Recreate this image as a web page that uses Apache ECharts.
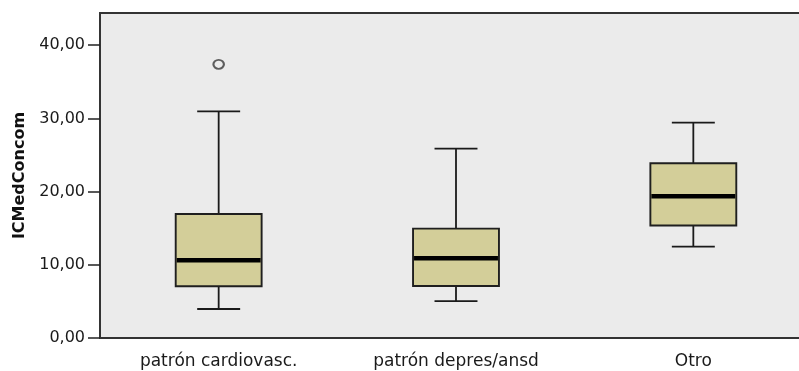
<!DOCTYPE html>
<html>
<head>
<meta charset="utf-8">
<script src="https://cdn.jsdelivr.net/npm/echarts@6/dist/echarts.min.js"></script>
<style>
html,body{margin:0;padding:0;background:#fff;overflow:hidden;}
#chart{width:799px;height:371px;}
</style>
</head>
<body>
<div id="chart"></div>
<script>
const categories = ['patrón cardiovasc.', 'patrón depres/ansd', 'Otro'];
const lowWhisker = [3.96, 5.05, 12.49];
const q1 = [7.06, 7.10, 15.36];
const median = [10.61, 10.89, 19.36];
const q3 = [16.94, 14.94, 23.87];
const highWhisker = [30.97, 25.87, 29.43];
const outliers = [[0, 37.39]];
const yTicks = [0, 10, 20, 30, 40];
const yMax = 44.4;

const boxData = categories.map((c, i) => [i, lowWhisker[i], q1[i], median[i], q3[i], highWhisker[i]]);

function fmt(v) { return v.toFixed(2).replace('.', ','); }

const chart = echarts.init(document.getElementById('chart'));
chart.setOption({
  animation: false,
  grid: {
    left: 100, top: 13, height: 325, width: 712,
    outerBoundsMode: 'none',
    containLabel: false,
    show: true, backgroundColor: '#ebebeb', borderColor: '#333', borderWidth: 1.8
  },
  xAxis: {
    type: 'category',
    data: categories,
    boundaryGap: true,
    axisLine: { lineStyle: { color: '#333', width: 1.8 } },
    axisTick: { alignWithLabel: true, length: 11, lineStyle: { color: '#222', width: 1.5 } },
    axisLabel: { fontFamily: 'DejaVu Sans', fontSize: 17, color: '#1a1a1a', margin: 15 },
    splitLine: { show: false }
  },
  yAxis: {
    type: 'value',
    min: 0, max: yMax,
    name: 'ICMedConcom',
    nameLocation: 'middle',
    nameGap: 68,
    nameTextStyle: { fontFamily: 'DejaVu Sans', fontWeight: 'bold', fontSize: 16, color: '#111' },
    axisLine: { show: true, lineStyle: { color: '#333', width: 1.8 } },
    axisTick: { show: true, length: 12, customValues: yTicks, lineStyle: { color: '#222', width: 1.5 } },
    axisLabel: { customValues: yTicks, formatter: fmt, fontFamily: 'DejaVu Sans', fontSize: 16, color: '#1a1a1a', margin: 15 },
    splitLine: { show: false }
  },
  series: [
    {
      type: 'custom',
      data: boxData,
      encode: { x: 0, y: [1, 2, 3, 4, 5] },
      renderItem: function (params, api) {
        const x = api.value(0);
        const pLow = api.coord([x, api.value(1)]);
        const pQ1 = api.coord([x, api.value(2)]);
        const pMed = api.coord([x, api.value(3)]);
        const pQ3 = api.coord([x, api.value(4)]);
        const pHigh = api.coord([x, api.value(5)]);
        const band = api.size([1, 0])[0];
        const bw = band * 0.362;
        const cw = bw / 2;
        const cx = pMed[0];
        const ws = { stroke: '#1a1a1a', lineWidth: 1.8 };
        return {
          type: 'group',
          children: [
            { type: 'line', shape: { x1: cx, y1: pLow[1], x2: cx, y2: pQ1[1] }, style: ws },
            { type: 'line', shape: { x1: cx, y1: pQ3[1], x2: cx, y2: pHigh[1] }, style: ws },
            { type: 'line', shape: { x1: cx - cw / 2, y1: pLow[1], x2: cx + cw / 2, y2: pLow[1] }, style: ws },
            { type: 'line', shape: { x1: cx - cw / 2, y1: pHigh[1], x2: cx + cw / 2, y2: pHigh[1] }, style: ws },
            { type: 'rect', shape: { x: cx - bw / 2, y: pQ3[1], width: bw, height: pQ1[1] - pQ3[1] },
              style: { fill: '#d3ce99', stroke: '#1f1f1f', lineWidth: 1.9 } },
            { type: 'line', shape: { x1: cx - bw / 2 + 1, y1: pMed[1], x2: cx + bw / 2 - 1, y2: pMed[1] },
              style: { stroke: '#000', lineWidth: 4.5 } }
          ]
        };
      }
    },
    {
      type: 'scatter',
      data: outliers,
      symbol: 'circle',
      symbolSize: [10.5, 9],
      itemStyle: { color: '#ebebeb', borderColor: '#3a3a3a', borderWidth: 2 }
    }
  ]
});
</script>
</body>
</html>
